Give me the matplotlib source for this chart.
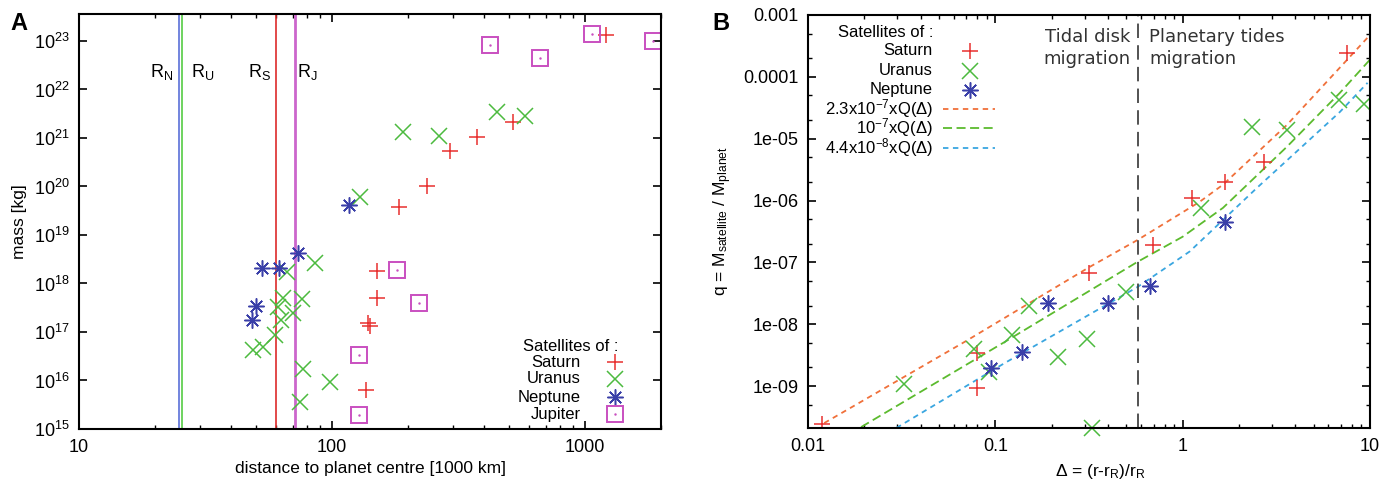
import matplotlib
matplotlib.use('Agg')
import matplotlib.pyplot as plt
from matplotlib.ticker import LogLocator, FuncFormatter, NullFormatter, NullLocator

plt.rcParams['font.family'] = ['Liberation Sans', 'DejaVu Sans']
plt.rcParams['mathtext.fontset'] = 'custom'
plt.rcParams['mathtext.rm'] = 'Liberation Sans'
plt.rcParams['mathtext.it'] = 'Liberation Sans:italic'
plt.rcParams['mathtext.bf'] = 'Liberation Sans:bold'
plt.rcParams['font.size'] = 12

# ---- panel A : distance [1000 km] / mass [kg]
saturn_dist = [1211, 519, 374, 293, 237, 184, 151, 151, 139, 141, 136]
saturn_mass = [1.3e23, 2.1e21, 1.07e21, 5.5e20, 1.0e20, 3.7e19, 1.8e18, 5.1e17, 1.5e17, 1.35e17, 6.4e15]
uranus_dist = [449, 580, 265, 191, 129, 85.7, 48.7, 53.3, 59.6, 61.2, 63, 64, 66.4, 70, 76, 77, 75, 98]
uranus_mass = [3.4e21, 2.9e21, 1.1e21, 1.3e21, 6.2e19, 2.7e18, 4.3e16, 4.9e16, 8.7e16, 3.3e17,
               1.8e17, 5.0e17, 1.7e18, 2.5e17, 4.7e17, 1.7e16, 3.6e15, 9.4e15]
neptune_dist = [117, 73.5, 61.7, 52.9, 50, 48.3]
neptune_mass = [4.1e19, 4.2e18, 2.1e18, 2.1e18, 3.5e17, 1.8e17]
jupiter_dist = [422, 664, 1067, 1858, 181, 221, 128, 128]
jupiter_mass = [8.1e22, 4.4e22, 1.38e23, 9.9e22, 1.9e18, 4.0e17, 3.4e16, 1.95e15]

planet_radius = [24.8, 25.5, 60.1, 71.5]
radius_names = [r'R$_\mathregular{N}$', r'R$_\mathregular{U}$', r'R$_\mathregular{S}$', r'R$_\mathregular{J}$']

# ---- panel B : delta = (r-rR)/rR  /  q = Msat/Mplanet
sat_delta = [0.0119, 0.080, 0.080, 0.318, 0.69, 1.12, 1.68, 2.71, 7.5]
sat_q = [2.4e-10, 3.4e-9, 9.3e-10, 6.8e-8, 1.9e-7, 1.1e-6, 2.0e-6, 4.2e-6, 2.4e-4]
ura_delta = [0.0326, 0.0773, 0.093, 0.123, 0.152, 0.215, 0.31, 0.50, 1.26, 2.34, 3.6, 6.8, 9.3]
ura_q = [1.08e-9, 4.0e-9, 1.7e-9, 6.7e-9, 1.97e-8, 2.95e-9, 5.75e-9, 3.3e-8, 7.6e-7,
         1.55e-5, 1.39e-5, 4.2e-5, 3.65e-5]
ura_low_delta = [0.33]          # sits on the lower frame
nep_delta = [0.0953, 0.138, 0.19, 0.397, 0.667, 1.68]
nep_q = [1.95e-9, 3.55e-9, 2.2e-8, 2.2e-8, 4.15e-8, 4.5e-7]

# fitted curves
fit1_delta = [0.0122, 0.0683, 0.318, 0.574, 1.23, 1.64, 3.6, 9.7]
fit1_q = [2.52e-10, 5.15e-9, 8.4e-8, 2.3e-7, 9.5e-7, 1.8e-6, 1.67e-5, 4.3e-4]
fit2_delta = [0.0192, 0.112, 0.574, 1.0, 1.64, 3.6, 6.9, 10]
fit2_q = [2.17e-10, 5.15e-9, 1.02e-7, 2.6e-7, 7.6e-7, 7.4e-6, 5.5e-5, 1.9e-4]
fit3_delta = [0.0296, 0.112, 0.574, 1.09, 2.49, 6.9, 9.7]
fit3_q = [2.1e-10, 2.35e-9, 4.0e-8, 1.5e-7, 1.6e-6, 2.7e-5, 8e-5]
fit_labels = [r'2.3x10$^{-7}$xQ($\Delta$)', r'10$^{-7}$xQ($\Delta$)', r'4.4x10$^{-8}$xQ($\Delta$)']
delta_split = 0.58

c_sat = '#e8302f'
c_ura = '#4cba3f'
c_nep = '#3a3fa8'
c_jup = '#c94fc0'
c_fit = ['#f0703a', '#5cbb2e', '#3aa6e0']
c_rad = ['#5a6fd8', '#55cc44', '#dd2a2a', '#cc66cc']

fig = plt.figure(figsize=(13.96, 4.83), dpi=100)
axA = fig.add_axes([0.0566, 0.1118, 0.4169, 0.8592])
axB = fig.add_axes([0.5788, 0.1139, 0.4026, 0.8551])

mk = dict(linestyle='none', markersize=11.5, markeredgewidth=1.1)
star = (8, 2, 0)

# ---------------- A
for r, c, lw in zip(planet_radius, c_rad, [1.2, 1.2, 1.2, 2.0]):
    axA.axvline(r, color=c, lw=lw)
for name, fx in zip(radius_names, [0.1426, 0.213, 0.311, 0.392]):
    axA.text(fx, 0.86, name, transform=axA.transAxes, ha='center', va='center', fontsize=13)

axA.plot(saturn_dist, saturn_mass, marker='+', color=c_sat, **mk)
axA.plot(uranus_dist, uranus_mass, marker='x', color=c_ura, **mk)
axA.plot(neptune_dist, neptune_mass, marker=star, color=c_nep, **mk)
axA.plot(jupiter_dist, jupiter_mass, marker='s', color=c_jup, mfc='none', linestyle='none',
         markersize=11, markeredgewidth=1.4)
axA.plot(jupiter_dist, jupiter_mass, marker='.', color=c_jup, linestyle='none', markersize=1.5)

axA.set_xscale('log')
axA.set_yscale('log')
axA.set_xlim(10, 2000)
axA.set_ylim(1e15, 3.6e23)
axA.yaxis.set_major_locator(LogLocator(base=10, numticks=20))
axA.yaxis.set_minor_locator(NullLocator())
axA.xaxis.set_minor_locator(LogLocator(base=10, subs=range(2, 10), numticks=20))
axA.xaxis.set_minor_formatter(NullFormatter())
axA.xaxis.set_major_formatter(FuncFormatter(lambda v, p: '%g' % v))
axA.set_xlabel('distance to planet centre [1000 km]', fontsize=12.5)
axA.set_ylabel('mass [kg]', fontsize=12.5)
axA.xaxis.set_label_coords(0.5, -0.077)
axA.yaxis.set_label_coords(-0.089, 0.5)

# legend A
axA.text(0.926, 0.2, 'Satellites of :', transform=axA.transAxes, ha='right', va='center')
legA = [('Saturn', '+', c_sat), ('Uranus', 'x', c_ura), ('Neptune', star, c_nep), ('Jupiter', 's', c_jup)]
for (lab, m, c), fy in zip(legA, [0.1614, 0.1205, 0.0771, 0.0361]):
    axA.text(0.8625, fy, lab, transform=axA.transAxes, ha='right', va='center')
    if m == 's':
        axA.plot([0.921], [fy], transform=axA.transAxes, marker='s', color=c, mfc='none',
                 markersize=11, markeredgewidth=1.4, clip_on=False)
        axA.plot([0.921], [fy], transform=axA.transAxes, marker='.', color=c, markersize=1.5)
    else:
        axA.plot([0.921], [fy], transform=axA.transAxes, marker=m, color=c, **mk)

# ---------------- B
dash_styles = [(3, 2.5), (5, 2.5), (3, 2.5)]
for dx, dq, c, d in zip([fit1_delta, fit2_delta, fit3_delta], [fit1_q, fit2_q, fit3_q], c_fit, dash_styles):
    axB.plot(dx, dq, color=c, lw=1.3, dashes=d)

axB.axvline(delta_split, color='#444444', lw=1.3, dashes=(8, 4))

axB.plot(sat_delta, sat_q, marker='+', color=c_sat, **mk)
axB.plot(ura_delta, ura_q, marker='x', color=c_ura, **mk)
axB.plot(nep_delta, nep_q, marker=star, color=c_nep, **mk)

axB.set_xscale('log')
axB.set_yscale('log')
axB.set_xlim(0.01, 10)
axB.set_ylim(2.1e-10, 1e-3)
axB.plot(ura_low_delta, [2.1e-10], marker='x', color=c_ura, clip_on=False, **mk)
axB.yaxis.set_major_locator(LogLocator(base=10, numticks=20))
axB.yaxis.set_minor_locator(LogLocator(base=10, subs=(2, 5), numticks=20))
axB.xaxis.set_minor_locator(LogLocator(base=10, subs=range(2, 10), numticks=20))
for a in (axB.xaxis, axB.yaxis):
    a.set_minor_formatter(NullFormatter())
    a.set_major_formatter(FuncFormatter(lambda v, p: '%g' % v))
axB.set_xlabel(r'$\Delta$ = (r-r$_\mathregular{R}$)/r$_\mathregular{R}$', fontsize=12.5)
axB.set_ylabel(r'q = M$_\mathregular{satellite}$ / M$_\mathregular{planet}$', fontsize=12.5)
axB.xaxis.set_label_coords(0.52, -0.082)
axB.yaxis.set_label_coords(-0.132, 0.5)

axB.text(0.573, 0.968, 'Tidal disk\nmigration', transform=axB.transAxes, ha='right', va='top',
         family='DejaVu Sans', fontsize=13, color='#333333', linespacing=1.25)
axB.text(0.607, 0.968, 'Planetary tides\nmigration', transform=axB.transAxes, ha='left', va='top',
         family='DejaVu Sans', fontsize=13, color='#333333', linespacing=1.25)

# legend B
axB.text(0.2224, 0.9564, 'Satellites of :', transform=axB.transAxes, ha='right', va='center')
rowsB = [0.9128, 0.8644, 0.8184, 0.7724, 0.7264, 0.678]
for (lab, m, c), fy in zip([('Saturn', '+', c_sat), ('Uranus', 'x', c_ura), ('Neptune', star, c_nep)], rowsB[:3]):
    axB.text(0.2224, fy, lab, transform=axB.transAxes, ha='right', va='center')
    axB.plot([0.288], [fy], transform=axB.transAxes, marker=m, color=c, **mk)
for lab, c, d, fy in zip(fit_labels, c_fit, dash_styles, rowsB[3:]):
    axB.text(0.2224, fy, lab, transform=axB.transAxes, ha='right', va='center')
    axB.plot([0.240, 0.333], [fy, fy], transform=axB.transAxes, color=c, lw=1.3, dashes=d)

for ax in (axA, axB):
    ax.tick_params(which='both', direction='in', top=True, right=True, labelsize=13, pad=7)
    ax.tick_params(which='major', length=6, width=1.2)
    ax.tick_params(which='minor', length=3, width=1.0)
    for s in ax.spines.values():
        s.set_linewidth(1.5)

fig.text(19 / 1396, 1 - 23 / 483, 'A', ha='center', va='center', fontsize=17, weight='bold')
fig.text(721 / 1396, 1 - 23 / 483, 'B', ha='center', va='center', fontsize=17, weight='bold')

fig.savefig('out.png', dpi=100)
